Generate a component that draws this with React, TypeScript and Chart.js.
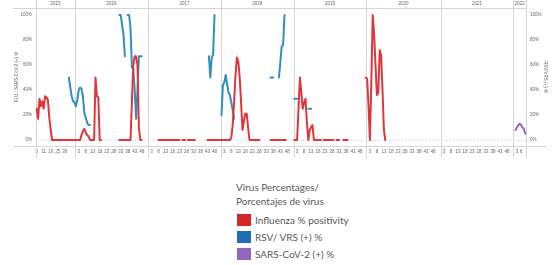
import React, { useEffect, useRef } from 'react';
import { Chart, registerables } from 'chart.js';

Chart.register(...registerables);

// ---- categories ----
const years = ['2015', '2016', '2017', '2018', '2019', '2020', '2021', '2022'];
const weeks2015 = [5, 6, 7, 8, 10, 11, 12, 13, 14, 15, 16, 18, 20, 22, 24, 25, 28, 31, 34, 37, 39, 41, 43, 45, 47, 49, 51, 52];
const weekCounts = [weeks2015.length, 52, 52, 52, 52, 53, 52, 9];

// ---- tick labels ----
const tickWeeks2015 = [5, 11, 16, 25, 39];
const tickWeeksFull = [3, 8, 13, 18, 23, 28, 33, 38, 43, 48];
const tickWeeks2022 = [3, 6];
const yTicks = [0, 20, 40, 60, 80, 100];

// ---- series values: [year, first week, consecutive weekly values] ----
type Run = [string, number, number[]];

const fluRuns: Run[] = [
  ['2015', 5, [25, 17, 33, 27, 31, 25, 35, 34, 32, 18, 8, 0, 0, 0, 0, 0, 0, 0, 0, 0, 0, 0, 0, 0, 0, 0, 0, 0]],
  ['2016', 1, [0, 0, 0, 0, 4, 7, 9, 6, 4, 3, 0, 0, 0, 0, 50, 35, 34, 0, 0]],
  ['2016', 32, [0, 0, 0, 0, 0, 0, 0, 0, 0, 30, 60, 67, 67, 60, 10, 0, 0]],
  ['2017', 8, [0, 0, 0, 0, 0, 0, 0, 0, 0, 0, 0, 0, 0, 0, 0, 0]],
  ['2017', 25, [0, 0, 0]],
  ['2017', 29, [0, 0, 0, 0, 0, 0]],
  ['2017', 43, [0, 0, 0, 0, 0, 0, 0, 0, 0, 0]],
  ['2018', 1, [0, 0, 0, 0, 0, 0, 0, 2, 12, 30, 52, 66, 63, 50, 30, 8, 15, 21, 21, 10, 0, 0, 0, 0, 0, 0, 0, 0]],
  ['2018', 36, [0, 0, 0, 0, 0, 0, 0, 0, 0, 0, 0, 0]],
  ['2019', 1, [0, 0, 0, 25, 50, 38, 25, 30, 33, 14, 0, 8, 10, 12, 0, 0, 0, 0, 0, 0]],
  ['2019', 22, [0, 0, 0, 0, 0, 0, 0, 0]],
  ['2019', 31, [0, 0, 0]],
  ['2019', 36, [0, 0, 0, 0]],
  ['2019', 52, [50]],
  ['2020', 1, [49, 28, 0, 45, 100, 85, 60, 36, 38, 72, 68, 40, 8, 0]],
];

const rsvRuns: Run[] = [
  ['2015', 45, [50, 42, 35, 31, 30]],
  ['2016', 1, [27, 32, 40, 42, 41, 35, 22, 18, 14, 12, 12]],
  ['2016', 32, [100, 100, 92, 84, 67]],
  ['2016', 38, [100, 100, 90, 58, 57, 40, 17, 40, 67, 67, 67]],
  ['2017', 44, [67, 50, 66, 68, 100]],
  ['2018', 1, [20, 44, 46, 52, 45, 38, 36, 30, 24, 17]],
  ['2018', 36, [50, 50, 50]],
  ['2018', 42, [50, 62, 75, 76, 100]],
  ['2019', 1, [33, 33, 33]],
  ['2019', 11, [25, 25, 25]],
];

const sarsRuns: Run[] = [
  ['2022', 2, [8, 10, 12, 13, 12, 10, 9, 5]],
];

const seriesNames = ['Influenza % positivity', 'RSV/ VRS (+) %', 'SARS-CoV-2 (+) %'];
const lineColors = ['#e0353a', '#2f8fbf', '#9467bd'];
const swatchColors = ['#d62728', '#1f6fb4', '#9467bd'];

// ---- build category axis ----
const labels: string[] = [];
const yearStart: number[] = [];
years.forEach((y, yi) => {
  yearStart.push(labels.length);
  const wks = yi === 0 ? weeks2015 : Array.from({ length: weekCounts[yi] }, (_, i) => i + 1);
  wks.forEach((w) => labels.push(`${y}-${w}`));
});

function buildSeries(runs: Run[]) {
  const arr: (number | null)[] = new Array(labels.length).fill(null);
  runs.forEach(([y, w, vals]) => {
    const start = labels.indexOf(`${y}-${w}`);
    vals.forEach((v, k) => {
      arr[start + k] = v;
    });
  });
  return arr;
}

const tickFont = { size: 4.5, family: '"Liberation Sans", Arial, sans-serif' };
const tickColor = '#666';

const panelPlugin = {
  id: 'panels',
  beforeDatasetsDraw(chart: any) {
    const { ctx, chartArea: a, scales } = chart;
    const x = scales.x;
    const y = scales.y;
    const slot = x.getPixelForValue(1) - x.getPixelForValue(0);
    const bounds = yearStart.map((s) => x.getPixelForValue(s) - slot / 2);
    bounds.push(a.right);
    ctx.save();
    ctx.strokeStyle = '#d6d6d6';
    ctx.lineWidth = 1;
    ctx.beginPath();
    bounds.forEach((b) => {
      const px = Math.round(b) + 0.5;
      ctx.moveTo(px, 0);
      ctx.lineTo(px, a.bottom + 12);
    });
    ctx.moveTo(13, Math.round(a.top) + 0.5);
    ctx.lineTo(a.right, Math.round(a.top) + 0.5);
    ctx.moveTo(13, Math.round(a.bottom) + 0.5);
    ctx.lineTo(547, Math.round(a.bottom) + 0.5);
    ctx.stroke();
    // zero reference line
    ctx.setLineDash([1, 2]);
    ctx.strokeStyle = '#cfcfcf';
    ctx.beginPath();
    const zy = Math.round(y.getPixelForValue(0)) + 0.5;
    ctx.moveTo(a.left, zy);
    ctx.lineTo(a.right, zy);
    ctx.stroke();
    ctx.setLineDash([]);
    // year headers
    ctx.fillStyle = '#666';
    ctx.font = `4.5px "Liberation Sans", Arial, sans-serif`;
    ctx.textAlign = 'center';
    ctx.textBaseline = 'middle';
    years.forEach((yr, i) => {
      ctx.fillText(yr, (bounds[i] + bounds[i + 1]) / 2, a.top / 2);
    });
    ctx.restore();
  },
};

export default function App() {
  const ref = useRef<HTMLCanvasElement>(null);
  useEffect(() => {
    if (!ref.current) return;
    const yCommon = {
      min: -4.8,
      max: 105.6,
      afterBuildTicks(s: any) {
        s.ticks = yTicks.map((v) => ({ value: v }));
      },
      grid: { display: false, drawTicks: false },
      border: { display: false },
      ticks: { callback: (v: any) => `${v}%`, padding: 4, font: tickFont, color: tickColor },
    };
    const chart = new Chart(ref.current, {
      type: 'line',
      data: {
        labels,
        datasets: [
          { label: seriesNames[0], data: buildSeries(fluRuns), borderColor: lineColors[0], yAxisID: 'y' },
          { label: seriesNames[1], data: buildSeries(rsvRuns), borderColor: lineColors[1], yAxisID: 'y1' },
          { label: seriesNames[2], data: buildSeries(sarsRuns), borderColor: lineColors[2], yAxisID: 'y' },
        ],
      },
      options: {
        animation: false,
        responsive: false,
        spanGaps: false,
        layout: { padding: { top: 8 } },
        plugins: { legend: { display: false }, tooltip: { enabled: false } },
        elements: {
          point: { radius: 0 },
          line: { tension: 0, borderWidth: 2, borderJoinStyle: 'round', borderCapStyle: 'round', fill: false },
        },
        scales: {
          x: {
            type: 'category',
            offset: true,
            grid: { display: false, drawTicks: false },
            border: { display: false },
            ticks: {
              autoSkip: false,
              maxRotation: 0,
              minRotation: 0,
              padding: 3,
              font: tickFont,
              color: tickColor,
              callback: (_v: any, index: number) => {
                const [yr, wk] = labels[index].split('-');
                const list = yr === '2015' ? tickWeeks2015 : yr === '2022' ? tickWeeks2022 : tickWeeksFull;
                return list.includes(Number(wk)) ? wk : '';
              },
            },
            afterFit(s: any) {
              s.height = 16;
            },
          },
          y: {
            ...yCommon,
            position: 'left',
            title: { display: true, text: 'FLU / SARS-CoV-2 (+) %', font: tickFont, color: tickColor, padding: { top: 14, bottom: 0 } },
            afterFit(s: any) {
              s.width = 36;
            },
          },
          y1: {
            ...yCommon,
            position: 'right',
            title: { display: true, text: 'RSV/VRS (+) %', font: tickFont, color: tickColor, padding: { top: 4.3, bottom: 0 } },
            afterFit(s: any) {
              s.width = 26;
            },
          },
        },
      } as any,
      plugins: [panelPlugin],
    });
    return () => chart.destroy();
  }, []);

  return (
    <div style={{ position: 'absolute', left: 0, top: 0, width: 552, height: 265, background: '#fff' }}>
      <canvas ref={ref} width={552} height={162} style={{ display: 'block', width: 552, height: 162 }} />
      <div
        style={{
          position: 'absolute',
          left: 236,
          top: 180,
          fontFamily: 'Lato, "Open Sans", sans-serif',
          fontSize: 10,
          color: '#595959',
          lineHeight: '14px',
        }}
      >
        <div>Virus Percentages/</div>
        <div>Porcentajes de virus</div>
        <div style={{ marginTop: 3 }}>
          {seriesNames.map((n, i) => (
            <div key={n} style={{ display: 'flex', alignItems: 'center', height: 17 }}>
              <span style={{ display: 'inline-block', width: 14, height: 12, background: swatchColors[i], marginLeft: 1, marginRight: 4 }} />
              <span>{n}</span>
            </div>
          ))}
        </div>
      </div>
    </div>
  );
}
